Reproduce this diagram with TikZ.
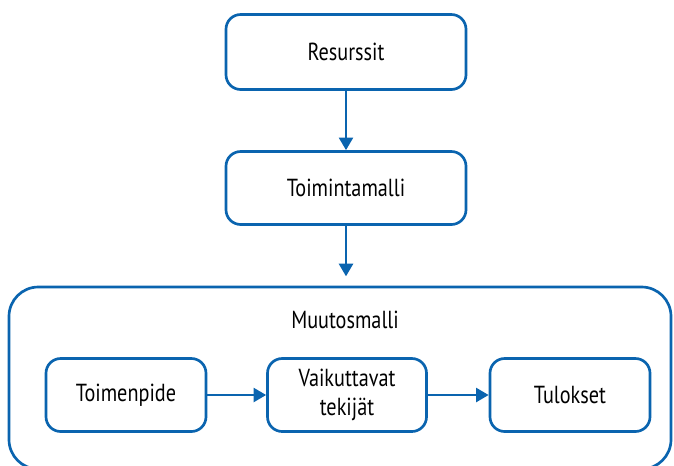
\documentclass[tikz,border=0pt]{standalone}
\usepackage{fontspec}
\setmainfont{PT Sans}[FakeStretch=0.82]
\usetikzlibrary{arrows.meta,calc}
\definecolor{lineblue}{RGB}{10,100,175}
\begin{document}
\begin{tikzpicture}[x=0.75pt,y=-0.75pt,
  txt/.style={font=\fontsize{18.5}{22}\selectfont},
  box/.style={draw=lineblue,line width=2pt,rounded corners=11pt,fill=white,align=center,txt,inner sep=0pt},
  conn/.style={draw=lineblue,line width=2pt,-{Triangle[length=9.5pt,width=10.5pt]}}]
\useasboundingbox (0,0) rectangle (674,465);
\node[box,minimum width=240*0.75pt,minimum height=75*0.75pt] (res) at (346,52) {Resurssit};
\node[box,minimum width=240*0.75pt,minimum height=73*0.75pt] (toim) at (346,188) {Toimintamalli};
\node[box,rounded corners=22pt,minimum width=662*0.75pt,minimum height=182*0.75pt] (big) at (340,378) {};
\node[txt] (muut) at (345,320) {Muutosmalli};
\node[box,minimum width=160*0.75pt,minimum height=73*0.75pt] (tp) at (126,395) {Toimenpide};
\node[box,minimum width=159*0.75pt,minimum height=73*0.75pt] (vt) at (347,395) {Vaikuttavat\\tekijät};
\node[box,minimum width=160*0.75pt,minimum height=73*0.75pt] (tul) at (570,395) {Tulokset};
\draw[conn] (res) -- (toim);
\draw[conn,shorten >=7pt] (toim) -- (big.north-|toim.south);
\draw[conn] (tp) -- (vt);
\draw[conn] (vt) -- (tul);
\end{tikzpicture}
\end{document}
